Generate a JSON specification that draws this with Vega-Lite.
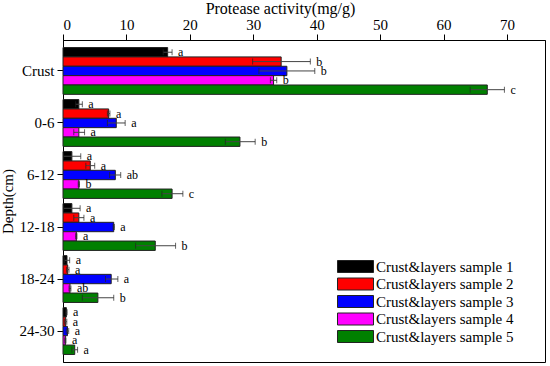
{
  "$schema": "https://vega.github.io/schema/vega-lite/v6.json",
  "width": 482,
  "height": 322,
  "autosize": {"type": "none"},
  "padding": {"left": 63, "top": 40, "right": 5, "bottom": 4},
  "background": "white",
  "config": {
    "view": {"stroke": "black", "strokeWidth": 1},
    "font": "Liberation Serif",
    "axis": {"grid": false, "domainColor": "black", "tickColor": "black", "labelColor": "black", "titleColor": "black", "labelFont": "Liberation Serif", "titleFont": "Liberation Serif", "titleFontWeight": "normal"}
  },
  "data": {
    "values": [
      {"depth": "Crust", "sample": "Crust&layers sample 1", "mean": 16.5, "lo": 15.8, "hi": 17.2, "letter": "a"},
      {"depth": "Crust", "sample": "Crust&layers sample 2", "mean": 34.4, "lo": 29.9, "hi": 39.0, "letter": "b"},
      {"depth": "Crust", "sample": "Crust&layers sample 3", "mean": 35.3, "lo": 30.9, "hi": 39.7, "letter": "b"},
      {"depth": "Crust", "sample": "Crust&layers sample 4", "mean": 33.2, "lo": 32.7, "hi": 33.7, "letter": "b"},
      {"depth": "Crust", "sample": "Crust&layers sample 5", "mean": 66.9, "lo": 64.2, "hi": 69.6, "letter": "c"},
      {"depth": "0-6", "sample": "Crust&layers sample 1", "mean": 2.5, "lo": 2.0, "hi": 3.05, "letter": "a"},
      {"depth": "0-6", "sample": "Crust&layers sample 2", "mean": 7.2, "lo": 7.0, "hi": 7.4, "letter": "a"},
      {"depth": "0-6", "sample": "Crust&layers sample 3", "mean": 8.4, "lo": 7.0, "hi": 9.8, "letter": "a"},
      {"depth": "0-6", "sample": "Crust&layers sample 4", "mean": 2.5, "lo": 1.7, "hi": 3.4, "letter": "a"},
      {"depth": "0-6", "sample": "Crust&layers sample 5", "mean": 27.9, "lo": 25.6, "hi": 30.3, "letter": "b"},
      {"depth": "6-12", "sample": "Crust&layers sample 1", "mean": 1.4, "lo": 0.1, "hi": 2.8, "letter": "a"},
      {"depth": "6-12", "sample": "Crust&layers sample 2", "mean": 4.3, "lo": 3.6, "hi": 5.0, "letter": "a"},
      {"depth": "6-12", "sample": "Crust&layers sample 3", "mean": 8.25, "lo": 7.35, "hi": 9.1, "letter": "ab"},
      {"depth": "6-12", "sample": "Crust&layers sample 4", "mean": 2.5, "lo": 2.4, "hi": 2.6, "letter": "b"},
      {"depth": "6-12", "sample": "Crust&layers sample 5", "mean": 17.2, "lo": 15.6, "hi": 18.9, "letter": "c"},
      {"depth": "12-18", "sample": "Crust&layers sample 1", "mean": 1.4, "lo": 0.1, "hi": 2.7, "letter": "a"},
      {"depth": "12-18", "sample": "Crust&layers sample 2", "mean": 2.5, "lo": 1.7, "hi": 3.3, "letter": "a"},
      {"depth": "12-18", "sample": "Crust&layers sample 3", "mean": 8.0, "lo": 7.9, "hi": 8.1, "letter": "a"},
      {"depth": "12-18", "sample": "Crust&layers sample 4", "mean": 2.1, "lo": 2.0, "hi": 2.2, "letter": "a"},
      {"depth": "12-18", "sample": "Crust&layers sample 5", "mean": 14.55, "lo": 11.45, "hi": 17.75, "letter": "b"},
      {"depth": "18-24", "sample": "Crust&layers sample 1", "mean": 0.63, "lo": 0.25, "hi": 1.05, "letter": "a"},
      {"depth": "18-24", "sample": "Crust&layers sample 2", "mean": 0.74, "lo": 0.55, "hi": 0.95, "letter": "a"},
      {"depth": "18-24", "sample": "Crust&layers sample 3", "mean": 7.6, "lo": 6.7, "hi": 8.65, "letter": "a"},
      {"depth": "18-24", "sample": "Crust&layers sample 4", "mean": 1.1, "lo": 0.95, "hi": 1.25, "letter": "ab"},
      {"depth": "18-24", "sample": "Crust&layers sample 5", "mean": 5.5, "lo": 3.05, "hi": 8.0, "letter": "b"},
      {"depth": "24-30", "sample": "Crust&layers sample 1", "mean": 0.53, "lo": 0.45, "hi": 0.65, "letter": "a"},
      {"depth": "24-30", "sample": "Crust&layers sample 2", "mean": 0.42, "lo": 0.25, "hi": 0.6, "letter": "a"},
      {"depth": "24-30", "sample": "Crust&layers sample 3", "mean": 0.7, "lo": 0.5, "hi": 0.9, "letter": "a"},
      {"depth": "24-30", "sample": "Crust&layers sample 4", "mean": 0.37, "lo": 0.27, "hi": 0.47, "letter": "a"},
      {"depth": "24-30", "sample": "Crust&layers sample 5", "mean": 1.85, "lo": 1.4, "hi": 2.3, "letter": "a"}
    ]
  },
  "encoding": {
    "y": {
      "field": "depth", "type": "nominal",
      "sort": ["Crust", "0-6", "6-12", "12-18", "18-24", "24-30"],
      "scale": {"paddingInner": 0.1, "paddingOuter": 0.145},
      "axis": {"title": "Depth(cm)", "titleFontSize": 15, "labelFontSize": 15, "tickSize": 6, "labelPadding": 3, "titlePadding": 4}
    },
    "yOffset": {"field": "sample", "type": "nominal", "scale": {"paddingInner": 0, "paddingOuter": 0}}
  },
  "layer": [
    {
      "mark": {"type": "bar", "stroke": "#222", "strokeWidth": 1},
      "encoding": {
        "x": {
          "field": "mean", "type": "quantitative",
          "scale": {"domain": [0, 76], "nice": false},
          "axis": {"orient": "top", "title": "Protease activity(mg/g)", "values": [0, 10, 20, 30, 40, 50, 60, 70], "labelFontSize": 15, "titleFontSize": 16, "tickSize": 6, "labelPadding": 2, "titleX": 217, "titleY": -27, "titleBaseline": "alphabetic"}
        },
        "color": {
          "field": "sample", "type": "nominal",
          "scale": {"range": ["#000000", "#ff0000", "#0000ff", "#ff00ff", "#008000"]},
          "legend": {
            "orient": "none", "legendX": 273, "legendY": 219, "title": null,
            "padding": 0,
            "symbolType": "M-3,-1H3V1H-3Z", "symbolSize": 144, "symbolOffset": 12,
            "symbolStrokeColor": "#222", "symbolStrokeWidth": 1, "symbolOpacity": 1,
            "labelFont": "Liberation Serif", "labelFontSize": 15, "labelColor": "black",
            "rowPadding": 0.5, "labelOffset": 13
          }
        }
      }
    },
    {
      "mark": {"type": "rule", "color": "#444", "strokeWidth": 1},
      "encoding": {
        "x": {"field": "lo", "type": "quantitative"},
        "x2": {"field": "hi"}
      }
    },
    {
      "mark": {"type": "tick", "color": "#222", "size": 6, "thickness": 1},
      "encoding": {"x": {"field": "lo", "type": "quantitative"}}
    },
    {
      "mark": {"type": "tick", "color": "#222", "size": 6, "thickness": 1},
      "encoding": {"x": {"field": "hi", "type": "quantitative"}}
    },
    {
      "mark": {"type": "text", "align": "left", "baseline": "middle", "dx": 6, "fontSize": 12, "font": "Liberation Serif", "color": "black"},
      "encoding": {
        "x": {"field": "hi", "type": "quantitative"},
        "text": {"field": "letter"}
      }
    }
  ]
}
